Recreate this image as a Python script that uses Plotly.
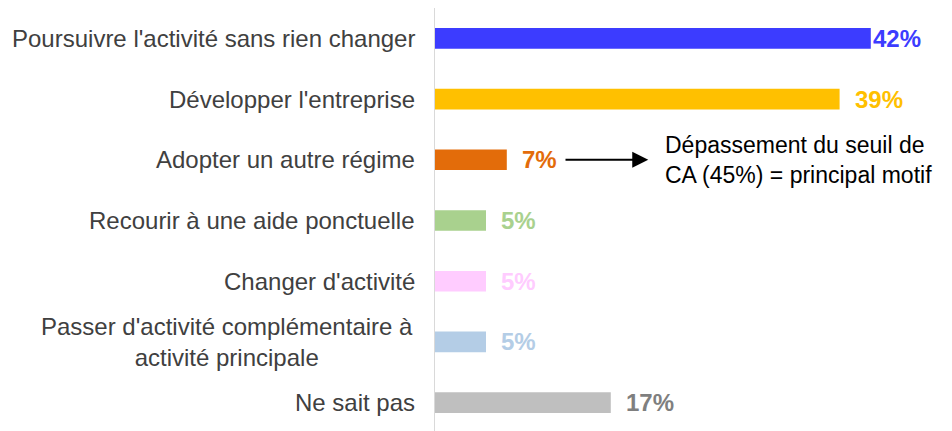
import plotly.graph_objects as go

categories = [
    "Poursuivre l'activité sans rien changer",
    "Développer l'entreprise",
    "Adopter un autre régime",
    "Recourir à une aide ponctuelle",
    "Changer d'activité",
    "Passer d'activité complémentaire à<br>activité principale",
    "Ne sait pas",
]
values = [42, 39, 7, 5, 5, 5, 17]
bar_colors = ["#3c3cff", "#ffc000", "#e36c0a", "#a9d18e", "#ffccff", "#b4cde6", "#bfbfbf"]
label_colors = ["#3c3cff", "#ffc000", "#e36c0a", "#a9d18e", "#ffccff", "#b4cde6", "#7f7f7f"]
note_text = "Dépassement du seuil de<br>CA (45%) = principal motif"

FONT = "Liberation Sans, Arial, sans-serif"

fig = go.Figure()
fig.add_trace(go.Bar(
    y=categories, x=values, orientation="h",
    marker=dict(color=bar_colors, line=dict(width=0)),
    width=0.34, hoverinfo="skip",
))

annotations = []
# value labels
for i, (c, v) in enumerate(zip(categories, values)):
    annotations.append(dict(
        x=v, y=c, xref="x", yref="y", text=f"<b>{v}%</b>", showarrow=False,
        xanchor="left", xshift=0 if i == 0 else 13,
        font=dict(family=FONT, size=24, color=label_colors[i]),
    ))
# category labels (multi-line ones centred)
for c in categories:
    multi = "<br>" in c
    annotations.append(dict(
        x=0, y=c, xref="paper", yref="y", text=c, showarrow=False,
        xanchor="center" if multi else "right",
        xshift=-207 if multi else -17,
        align="center" if multi else "right",
        font=dict(family=FONT, size=24, color="#404040"),
    ))
# note with arrow
annotations.append(dict(
    x=20.6, y=categories[2], xref="x", yref="y",
    ax=12.5, ay=categories[2], axref="x", ayref="y",
    text="", showarrow=True, arrowhead=2, arrowsize=1.6, arrowwidth=2,
    arrowcolor="#000000",
))
annotations.append(dict(
    x=22.0, y=categories[2], xref="x", yref="y", text=note_text,
    showarrow=False, xanchor="left", align="left",
    font=dict(family=FONT, size=23, color="#000000"),
))

fig.update_layout(
    width=952, height=431,
    margin=dict(l=426, r=16, t=0, b=6),
    paper_bgcolor="white", plot_bgcolor="white",
    showlegend=False,
    annotations=annotations,
    xaxis=dict(range=[0, 49.04], visible=False, fixedrange=True),
    yaxis=dict(autorange="reversed", showticklabels=False, showgrid=False,
               zeroline=False, showline=False, ticks=""),
    shapes=[dict(type="line", xref="x", yref="paper", x0=0, x1=0, y0=0, y1=1,
                 line=dict(color="#d9d9d9", width=2))],
)

fig.write_html("out.html")
